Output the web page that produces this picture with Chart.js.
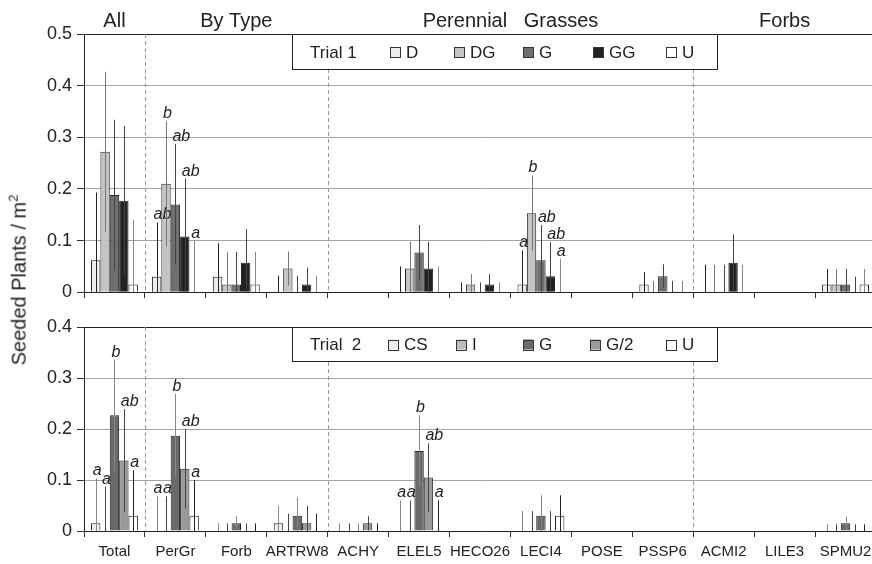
<!DOCTYPE html>
<html>
<head>
<meta charset="utf-8">
<script src="https://cdn.jsdelivr.net/npm/chart.js@4.4.1/dist/chart.umd.min.js"></script>
<style>
  html, body { margin: 0; padding: 0; background: #fff; overflow: hidden; width: 872px; height: 564px; }
  #topChart { position: absolute; left: 0; top: 0; }
  #bottomChart { position: absolute; left: 0; top: 300px; }
  #ytitle {
    position: absolute; left: 18px; top: 280px;
    transform: translate(-50%, -50%) rotate(-90deg);
    font: 20px "Liberation Sans", Arial, sans-serif; color: #222; white-space: nowrap;
  }
  #ytitle sup { font-size: 13px; }
</style>
</head>
<body>
<canvas id="topChart" width="880" height="308"></canvas>
<canvas id="bottomChart" width="880" height="264"></canvas>
<div id="ytitle">Seeded Plants / m<sup>2</sup></div>
<script>
// categories along the x axis
const categories = ['Total', 'PerGr', 'Forb', 'ARTRW8', 'ACHY', 'ELEL5', 'HECO26', 'LECI4', 'POSE', 'PSSP6', 'ACMI2', 'LILE3', 'SPMU2'];
const groupNames = ['All', 'By Type', 'Perennial   Grasses', 'Forbs'];
const groupSpans = [[0, 0], [1, 3], [4, 9], [10, 12]];

// Trial 1 series: mean, error, significance letter
const t1Names = ['D', 'DG', 'G', 'GG', 'U'];
const t1D   = [0.062, 0.030, 0.030, 0,     0, 0,     0,     0.015, 0, 0.015, 0,     0, 0.015];
const t1DG  = [0.272, 0.210, 0.015, 0.046, 0, 0.046, 0.015, 0.153, 0, 0,     0,     0, 0.015];
const t1G   = [0.188, 0.170, 0.015, 0,     0, 0.077, 0,     0.062, 0, 0.031, 0,     0, 0.015];
const t1GG  = [0.177, 0.108, 0.057, 0.015, 0, 0.046, 0.015, 0.031, 0, 0,     0.057, 0, 0];
const t1U   = [0.015, 0,     0.015, 0,     0, 0,     0,     0,     0, 0,     0,     0, 0.015];
const t1DErr  = [0.131, 0.105, 0.065, 0.032, 0, 0.050, 0.019, 0.066, 0, 0.024, 0.053, 0, 0.030];
const t1DGErr = [0.155, 0.121, 0.063, 0.033, 0, 0.052, 0.020, 0.073, 0, 0.022, 0.053, 0, 0.030];
const t1GErr  = [0.146, 0.117, 0.063, 0.032, 0, 0.053, 0.019, 0.068, 0, 0.023, 0.053, 0, 0.030];
const t1GGErr = [0.145, 0.112, 0.065, 0.033, 0, 0.052, 0.020, 0.066, 0, 0.022, 0.055, 0, 0.030];
const t1UErr  = [0.125, 0.100, 0.063, 0.032, 0, 0.050, 0.019, 0.065, 0, 0.022, 0.053, 0, 0.030];
const t1DLet  = ['', 'ab', '', '', '', '', '', 'a',  '', '', '', '', ''];
const t1DGLet = ['', 'b',  '', '', '', '', '', 'b',  '', '', '', '', ''];
const t1GLet  = ['', 'ab', '', '', '', '', '', 'ab', '', '', '', '', ''];
const t1GGLet = ['', 'ab', '', '', '', '', '', 'ab', '', '', '', '', ''];
const t1ULet  = ['', 'a',  '', '', '', '', '', 'a',  '', '', '', '', ''];

// Trial 2 series
const t2Names = ['CS', 'I', 'G', 'G/2', 'U'];
const t2CS  = [0.015, 0,     0,     0.015, 0,     0,     0, 0,     0, 0, 0, 0, 0];
const t2I   = [0,     0,     0,     0,     0,     0,     0, 0,     0, 0, 0, 0, 0];
const t2G   = [0.227, 0.187, 0.015, 0.030, 0,     0.157, 0, 0.030, 0, 0, 0, 0, 0.015];
const t2G2  = [0.138, 0.122, 0,     0.015, 0.015, 0.105, 0, 0,     0, 0, 0, 0, 0];
const t2U   = [0.030, 0.030, 0,     0,     0,     0,     0, 0.030, 0, 0, 0, 0, 0];
const t2CSErr = [0.088, 0.068, 0.015, 0.035, 0.015, 0.060, 0, 0.039, 0, 0, 0, 0, 0.013];
const t2IErr  = [0.087, 0.068, 0.015, 0.034, 0.015, 0.060, 0, 0.039, 0, 0, 0, 0, 0.013];
const t2GErr  = [0.109, 0.082, 0.014, 0.036, 0.015, 0.070, 0, 0.040, 0, 0, 0, 0, 0.013];
const t2G2Err = [0.101, 0.078, 0.015, 0.035, 0.014, 0.067, 0, 0.039, 0, 0, 0, 0, 0.013];
const t2UErr  = [0.089, 0.070, 0.015, 0.034, 0.015, 0.060, 0, 0.040, 0, 0, 0, 0, 0.013];
const t2CSLet = ['a',  'a',  '', '', '', 'a',  '', '', '', '', '', '', ''];
const t2ILet  = ['a',  'a',  '', '', '', 'a',  '', '', '', '', '', '', ''];
const t2GLet  = ['b',  'b',  '', '', '', 'b',  '', '', '', '', '', '', ''];
const t2G2Let = ['ab', 'ab', '', '', '', 'ab', '', '', '', '', '', '', ''];
const t2ULet  = ['a',  'a',  '', '', '', 'a',  '', '', '', '', '', '', ''];

const FONT = '"Liberation Sans", Arial, sans-serif';
Chart.defaults.font.family = FONT;
Chart.defaults.color = '#222';

function makeDatasets(names, values, errors, letters, fills, errColors) {
  return names.map((name, i) => ({
    label: name,
    data: values[i],
    errors: errors[i],
    letters: letters[i],
    errColor: errColors[i],
    backgroundColor: fills[i],
    borderColor: '#222',
    borderWidth: 1,
    categoryPercentage: 0.77,
    barPercentage: 1.0
  }));
}

// error lines + significance letters
const errorBars = {
  id: 'errorBars',
  afterDatasetsDraw(chart) {
    const { ctx } = chart;
    const y = chart.scales.y;
    ctx.save();
    chart.data.datasets.forEach((ds, i) => {
      chart.getDatasetMeta(i).data.forEach((bar, j) => {
        const v = ds.data[j], e = ds.errors[j];
        if (e > 0) {
          const x = Math.round(bar.x) + 0.5;
          ctx.strokeStyle = ds.errColor;
          ctx.lineWidth = 1;
          ctx.beginPath();
          ctx.moveTo(x, y.getPixelForValue(Math.max(0, v - e)));
          ctx.lineTo(x, y.getPixelForValue(v + e));
          ctx.stroke();
        }
        if (ds.letters[j]) {
          ctx.font = 'italic 16px ' + FONT;
          ctx.fillStyle = '#222';
          ctx.textAlign = 'left';
          ctx.textBaseline = 'alphabetic';
          ctx.fillText(ds.letters[j], bar.x - 3, y.getPixelForValue(v + e) - 3);
        }
      });
    });
    ctx.restore();
  }
};

// dashed separators between category groups
const dividers = {
  id: 'dividers',
  beforeDatasetsDraw(chart, args, opts) {
    const { ctx, chartArea } = chart;
    const x = chart.scales.x;
    ctx.save();
    ctx.strokeStyle = '#9a9a9a';
    ctx.lineWidth = 1;
    ctx.setLineDash([4, 3]);
    opts.after.forEach(i => {
      const px = Math.round((x.getPixelForValue(i) + x.getPixelForValue(i + 1)) / 2) + 0.5;
      ctx.beginPath();
      ctx.moveTo(px, chartArea.top);
      ctx.lineTo(px, chartArea.bottom);
      ctx.stroke();
    });
    ctx.restore();
  }
};

// group headers above the top panel
const groupHeaders = {
  id: 'groupHeaders',
  afterDraw(chart, args, opts) {
    if (!opts.names) return;
    const { ctx } = chart;
    const x = chart.scales.x;
    const half = (x.getPixelForValue(1) - x.getPixelForValue(0)) / 2;
    ctx.save();
    ctx.font = '20px ' + FONT;
    ctx.fillStyle = '#222';
    ctx.textAlign = 'center';
    ctx.textBaseline = 'alphabetic';
    opts.names.forEach((name, k) => {
      const [a, b] = opts.spans[k];
      const cx = (x.getPixelForValue(a) - half + x.getPixelForValue(b) + half) / 2;
      ctx.fillText(name, cx, 27);
    });
    ctx.restore();
  }
};

// boxed legend in one row
const boxLegend = {
  id: 'boxLegend',
  afterDraw(chart, args, opts) {
    const { ctx, chartArea } = chart;
    const top = Math.round(chartArea.top) + 0.5;
    ctx.save();
    ctx.fillStyle = '#fff';
    ctx.fillRect(opts.left, top, opts.right - opts.left, opts.height);
    ctx.strokeStyle = '#222';
    ctx.lineWidth = 1;
    ctx.strokeRect(opts.left + 0.5, top, opts.right - opts.left, opts.height);
    const cy = top + opts.height / 2;
    ctx.font = '17px ' + FONT;
    ctx.fillStyle = '#222';
    ctx.textBaseline = 'middle';
    ctx.textAlign = 'left';
    ctx.fillText(opts.title, opts.left + 18, cy + 1);
    chart.data.datasets.forEach((ds, i) => {
      const bx = opts.slots[i];
      ctx.fillStyle = ds.backgroundColor;
      ctx.fillRect(bx, cy - 5, 10, 10);
      ctx.strokeStyle = '#333';
      ctx.strokeRect(bx + 0.5, Math.round(cy - 5) + 0.5, 10, 10);
      ctx.fillStyle = '#222';
      ctx.fillText(ds.label, bx + 16, cy + 1);
    });
    ctx.restore();
  }
};

function makeChart(canvasId, datasets, yMax, opts) {
  return new Chart(document.getElementById(canvasId), {
    type: 'bar',
    data: { labels: categories, datasets: datasets },
    options: {
      responsive: false,
      animation: false,
      layout: { padding: { top: opts.padTop, right: 4, bottom: 0, left: 0 } },
      plugins: {
        legend: { display: false },
        tooltip: { enabled: false },
        dividers: { after: [0, 3, 9] },
        groupHeaders: opts.headers || {},
        boxLegend: { left: 292, right: 717, height: opts.legendHeight, title: opts.title, slots: opts.slots }
      },
      scales: {
        x: {
          offset: true,
          grid: { display: true, drawOnChartArea: false, offset: true, tickLength: 6, tickColor: '#333' },
          border: { display: true, color: '#222', width: 1 },
          ticks: {
            autoSkip: false, maxRotation: 0, minRotation: 0, padding: 6,
            font: { size: 15 }, color: '#222',
            callback: (v, i) => opts.showLabels ? categories[i] : ''
          },
          afterFit: s => { s.height = opts.xHeight; }
        },
        y: {
          min: 0, max: yMax,
          ticks: {
            stepSize: 0.1, padding: 5, font: { size: 18 }, color: '#222',
            callback: v => v === 0 ? '0' : v.toFixed(1)
          },
          grid: {
            color: c => (c.tick && Math.abs(c.tick.value - yMax) < 1e-9) ? '#222' : '#a3a3a3',
            tickLength: 7, tickColor: '#333', lineWidth: 1
          },
          border: { display: true, color: '#222', width: 1 },
          afterFit: s => { s.width = 84; }
        }
      }
    },
    plugins: [dividers, errorBars, groupHeaders, boxLegend]
  });
}

makeChart('topChart',
  makeDatasets(t1Names,
    [t1D, t1DG, t1G, t1GG, t1U],
    [t1DErr, t1DGErr, t1GErr, t1GGErr, t1UErr],
    [t1DLet, t1DGLet, t1GLet, t1GGLet, t1ULet],
    ['#ececec', '#c4c4c4', '#6f6f6f', '#222222', '#ffffff'],
    ['#222', '#777', '#444', '#444', '#888']),
  0.5,
  { padTop: 34, xHeight: 8, showLabels: false, legendHeight: 35, title: 'Trial 1',
    slots: [390, 454, 523, 593, 666],
    headers: { names: groupNames, spans: groupSpans } });

makeChart('bottomChart',
  makeDatasets(t2Names,
    [t2CS, t2I, t2G, t2G2, t2U],
    [t2CSErr, t2IErr, t2GErr, t2G2Err, t2UErr],
    [t2CSLet, t2ILet, t2GLet, t2G2Let, t2ULet],
    ['#ececec', '#bdbdbd', '#6a6a6a', '#9a9a9a', '#ffffff'],
    ['#888', '#444', '#888', '#444', '#222']),
  0.4,
  { padTop: 27, xHeight: 33, showLabels: true, legendHeight: 34, title: 'Trial  2',
    slots: [388, 456, 523, 590, 666] });
</script>
</body>
</html>
